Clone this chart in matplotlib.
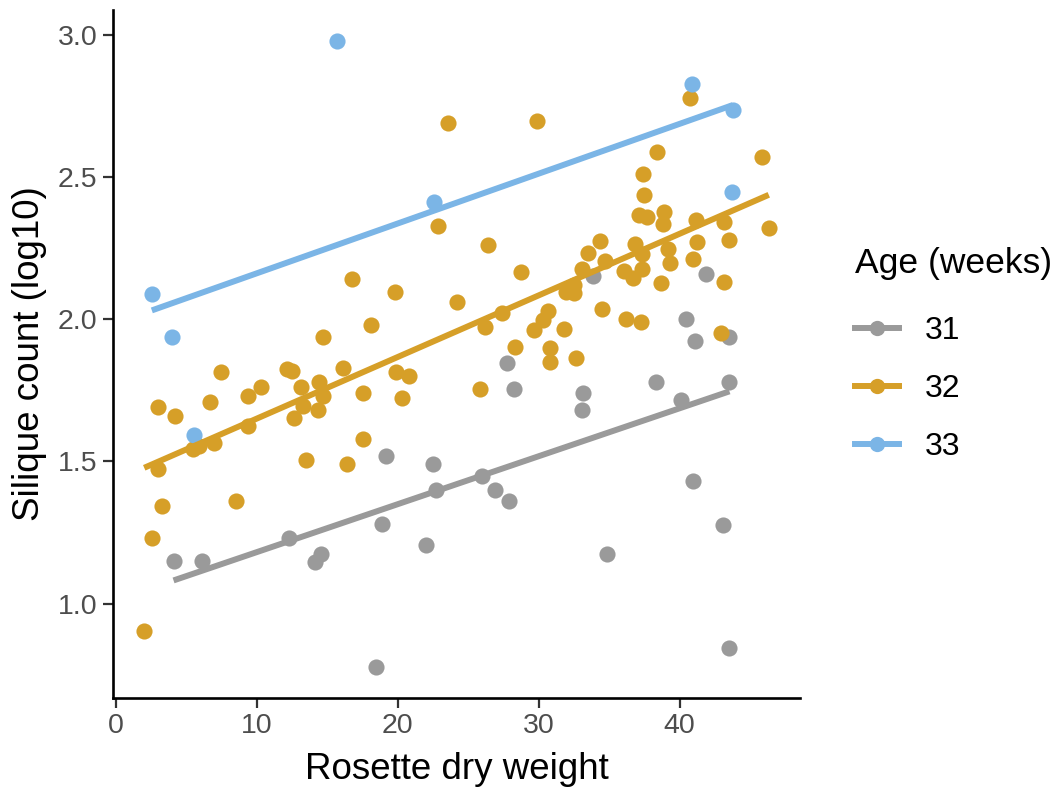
import numpy as np
import matplotlib
matplotlib.use("Agg")
import matplotlib.pyplot as plt
from matplotlib.lines import Line2D

plt.rcParams['font.family'] = ['Liberation Sans', 'DejaVu Sans']

# rosette dry weight / silique count (log10) by age group
x31 = [33.88, 41.9, 40.43, 43.54, 41.11, 27.78, 28.26, 33.17, 33.1, 38.36,
       43.54, 40.07, 25.98, 26.88, 27.88, 40.97, 43.06, 34.85, 43.54, 19.15,
       22.52, 22.73, 18.86, 21.99, 12.29, 4.1, 6.1, 14.16, 14.59, 18.48]
y31 = [2.150, 2.158, 2.0, 1.939, 1.924, 1.846, 1.754, 1.740, 1.681, 1.778,
       1.778, 1.717, 1.448, 1.398, 1.361, 1.432, 1.278, 1.176, 0.845, 1.518,
       1.491, 1.398, 1.280, 1.205, 1.230, 1.148, 1.148, 1.146, 1.175, 0.778]

x32 = [2.02, 2.56, 3.01, 3.3, 3.01, 4.2, 5.46, 5.93, 6.95, 6.67,
       7.47, 8.54, 9.37, 9.37, 10.27, 12.12, 12.5, 12.62, 13.12, 13.26,
       13.5, 14.4, 14.35, 14.69, 14.69, 16.11, 16.39, 16.77, 17.53, 17.53,
       18.08, 19.86, 19.83, 20.8, 20.33, 22.83, 23.54, 24.2, 25.81, 26.17,
       26.43, 27.4, 28.36, 28.73, 29.7, 29.9, 30.3, 30.68, 30.84, 30.84,
       31.77, 31.96, 32.5, 32.5, 32.62, 33.1, 33.52, 34.33, 34.52, 34.68,
       36.06, 36.23, 36.73, 36.82, 37.13, 37.27, 37.32, 37.32, 37.44, 37.46,
       37.72, 38.41, 38.7, 38.81, 38.9, 39.17, 39.34, 40.76, 40.93, 41.16,
       41.21, 42.97, 43.15, 43.18, 43.54, 45.86, 46.33]
y32 = [0.903, 1.230, 1.474, 1.343, 1.690, 1.661, 1.544, 1.553, 1.565, 1.708,
       1.813, 1.361, 1.731, 1.623, 1.763, 1.825, 1.819, 1.653, 1.763, 1.696,
       1.505, 1.778, 1.681, 1.729, 1.939, 1.827, 1.491, 2.140, 1.739, 1.579,
       1.979, 1.813, 2.094, 1.799, 1.723, 2.327, 2.688, 2.062, 1.754, 1.971,
       2.260, 2.023, 1.903, 2.166, 1.963, 2.698, 1.998, 2.029, 1.898, 1.850,
       1.965, 2.094, 2.091, 2.119, 1.863, 2.175, 2.234, 2.274, 2.037, 2.205,
       2.170, 2.0, 2.143, 2.263, 2.367, 1.991, 2.228, 2.175, 2.512, 2.436,
       2.359, 2.589, 2.126, 2.333, 2.378, 2.248, 2.199, 2.778, 2.211, 2.347,
       2.271, 1.951, 2.341, 2.129, 2.278, 2.571, 2.320]

x33 = [2.56, 3.96, 5.57, 15.7, 22.61, 40.88, 43.77, 43.73]
y33 = [2.088, 1.939, 1.591, 2.977, 2.412, 2.828, 2.736, 2.448]

ages = ['31', '32', '33']
colors = ['#9A9A9A', '#D69F28', '#7BB5E6']

fig = plt.figure(figsize=(10.58, 7.87), dpi=100)
ax = fig.add_axes([113/1058, 1 - 698/787, (800 - 113)/1058, (698 - 10)/787])

groups = [(x31, y31), (x32, y32), (x33, y33)]
for (gx, gy), col in zip(groups, colors):
    gx = np.array(gx)
    gy = np.array(gy)
    ax.scatter(gx, gy, s=135, color=col, linewidths=0, zorder=2)
    slope, icpt = np.polyfit(gx, gy, 1)
    xs = np.array([gx.min(), gx.max()])
    ax.plot(xs, icpt + slope * xs, color=col, lw=4.3, solid_capstyle='butt', zorder=3)

# ggplot style 5% expansion
allx = np.concatenate([x31, x32, x33])
ally = np.concatenate([y31, y32, y33])
dx = (allx.max() - allx.min()) * 0.05
dy = (ally.max() - ally.min()) * 0.05
ax.set_xlim(allx.min() - dx, allx.max() + dx)
ax.set_ylim(ally.min() - dy, ally.max() + dy)

ax.set_xticks([0, 10, 20, 30, 40])
ax.set_yticks([1.0, 1.5, 2.0, 2.5, 3.0])
ax.set_yticklabels(['1.0', '1.5', '2.0', '2.5', '3.0'])
for side in ['top', 'right']:
    ax.spines[side].set_visible(False)
for side in ['left', 'bottom']:
    ax.spines[side].set_linewidth(1.9)
    ax.spines[side].set_color('black')
ax.tick_params(length=7, width=1.6, color='#333333', labelcolor='#4D4D4D',
               labelsize=20.5, pad=4)

ax.set_xlabel('Rosette dry weight', fontsize=26.5, labelpad=9)
ax.set_ylabel('Silique count (log10)', fontsize=26.5, labelpad=8)

handles = [Line2D([0], [0], color=c, lw=4.3, marker='o', markersize=11,
                  markeredgewidth=0) for c in colors]
leg = fig.legend(handles, ages, title='Age (weeks)', loc='upper left',
                 bbox_to_anchor=(826/1058, 1 - 218/787), frameon=False,
                 fontsize=23, title_fontsize=25.5, handlelength=1.4,
                 handletextpad=0.8, labelspacing=0.88, alignment='left')
leg._legend_box.sep = 26

fig.savefig('out.png', dpi=100, facecolor='white')
